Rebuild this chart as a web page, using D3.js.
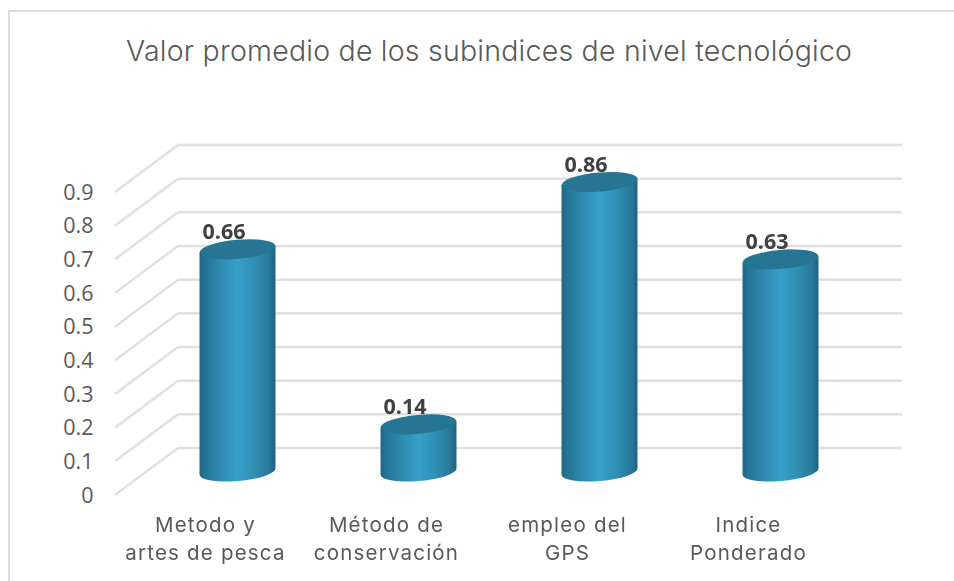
<!DOCTYPE html>
<html>
<head>
<meta charset="utf-8">
<script src="https://cdn.jsdelivr.net/npm/d3@7"></script>
<style>
html, body { margin: 0; padding: 0; background: #fff; }
svg { display: block; }
</style>
</head>
<body>
<div id="chart"></div>
<script>
var categories = [['Metodo y', 'artes de pesca'], ['Método de', 'conservación'], ['empleo del', 'GPS'], ['Indice', 'Ponderado']];
var values = [0.66, 0.14, 0.86, 0.63];
var labels = ['0.66', '0.14', '0.86', '0.63'];
var yTicks = [0, 0.1, 0.2, 0.3, 0.4, 0.5, 0.6, 0.7, 0.8, 0.9];
var title = 'Valor promedio de los subindices de nivel tecnológico';

var width = 954, height = 581;
var depthX = 63, depthY = -47;

var svg = d3.select('#chart').append('svg')
    .attr('width', width)
    .attr('height', height);

var defs = svg.append('defs');

var grad = defs.append('linearGradient').attr('id', 'body');
[[0, '#206685'], [0.08, '#267596'], [0.28, '#2f8bb1'], [0.5, '#38a0ca'], [0.74, '#2f8db3'], [0.92, '#287896'], [1, '#1f6180']].forEach(function (s) {
    grad.append('stop').attr('offset', s[0]).attr('stop-color', s[1]);
});

defs.append('filter').attr('id', 'soft')
    .append('feGaussianBlur').attr('stdDeviation', 0.6);

// frame, only the top and left edges are in the picture
svg.append('path')
    .attr('d', 'M9,581V11H954')
    .attr('fill', 'none')
    .attr('stroke', '#dcdcdc')
    .attr('stroke-width', 2);

svg.append('text')
    .attr('x', 489)
    .attr('y', 61)
    .attr('text-anchor', 'middle')
    .attr('font-family', 'Inter')
    .attr('font-weight', 300)
    .attr('font-size', 28.5)
    .attr('textLength', 726)
    .attr('fill', '#595959')
    .text(title);

// y is the back wall, bars stand half way into the floor
var y = d3.scaleLinear().domain([0, 0.9]).range([448, 145]);
var x = d3.scaleBand().domain(d3.range(categories.length)).range([147, 871]);

var grid = svg.append('g').attr('filter', 'url(#soft)');
grid.selectAll('.back').data(yTicks).join('line')
    .attr('class', 'back')
    .attr('x1', 178)
    .attr('y1', function (d) { return y(d); })
    .attr('x2', 902)
    .attr('y2', function (d) { return y(d); })
    .attr('stroke', '#e0e0e0')
    .attr('stroke-width', 2.5);
grid.selectAll('.side').data(yTicks).join('line')
    .attr('class', 'side')
    .attr('x1', 178)
    .attr('y1', function (d) { return y(d); })
    .attr('x2', 178 - depthX)
    .attr('y2', function (d) { return y(d) - depthY; })
    .attr('stroke', '#e0e0e0')
    .attr('stroke-width', 2.5);

svg.append('g').selectAll('text').data(yTicks).join('text')
    .attr('x', 93.5)
    .attr('y', function (d) { return y(d) - depthY + 7.5; })
    .attr('text-anchor', 'end')
    .attr('font-family', 'Open Sans')
    .attr('font-size', 21.5)
    .attr('fill', '#595959')
    .text(function (d) { return d; });

var rx = 38, ry = 9.5, tilt = -5;
var midY = -depthY / 2;

var bars = svg.append('g').attr('filter', 'url(#soft)').selectAll('g').data(values).join('g')
    .attr('transform', function (d, i) {
        return 'translate(' + (x(i) + x.bandwidth() / 2) + ',0)';
    });

bars.append('path')
    .attr('fill', 'url(#body)')
    .attr('d', function (d) {
        var top = y(d) + midY, bottom = y(0) + midY;
        var dy = rx * Math.sin(tilt * Math.PI / 180);
        return 'M' + (-rx) + ',' + (top - dy) + 'L' + (-rx) + ',' + (bottom - dy) +
            'A' + rx + ',' + ry + ' ' + tilt + ' 0 0 ' + rx + ',' + (bottom + dy) +
            'L' + rx + ',' + (top + dy) + 'Z';
    });

bars.append('ellipse')
    .attr('rx', rx)
    .attr('ry', ry)
    .attr('fill', '#287592')
    .attr('transform', function (d) {
        return 'translate(0,' + (y(d) + midY) + ') rotate(' + tilt + ')';
    });

svg.append('g').selectAll('text').data(values).join('text')
    .attr('x', function (d, i) { return x(i) + x.bandwidth() / 2 - 13.5; })
    .attr('y', function (d) { return y(d) + midY - 10; })
    .attr('text-anchor', 'middle')
    .attr('font-family', 'Open Sans')
    .attr('font-weight', 700)
    .attr('font-size', 21.5)
    .attr('fill', '#404040')
    .text(function (d, i) { return labels[i]; });

var cats = svg.append('g').selectAll('text').data(categories).join('text')
    .attr('text-anchor', 'middle')
    .attr('font-family', 'Inter')
    .attr('font-size', 20.5)
    .attr('letter-spacing', 1.2)
    .attr('fill', '#595959');
cats.selectAll('tspan').data(function (d, i) {
    return d.map(function (t) { return { t: t, i: i }; });
}).join('tspan')
    .attr('x', function (d) { return x(d.i) + x.bandwidth() / 2 - 32; })
    .attr('y', function (d, j) { return 532 + j * 28; })
    .text(function (d) { return d.t; });
</script>
</body>
</html>
